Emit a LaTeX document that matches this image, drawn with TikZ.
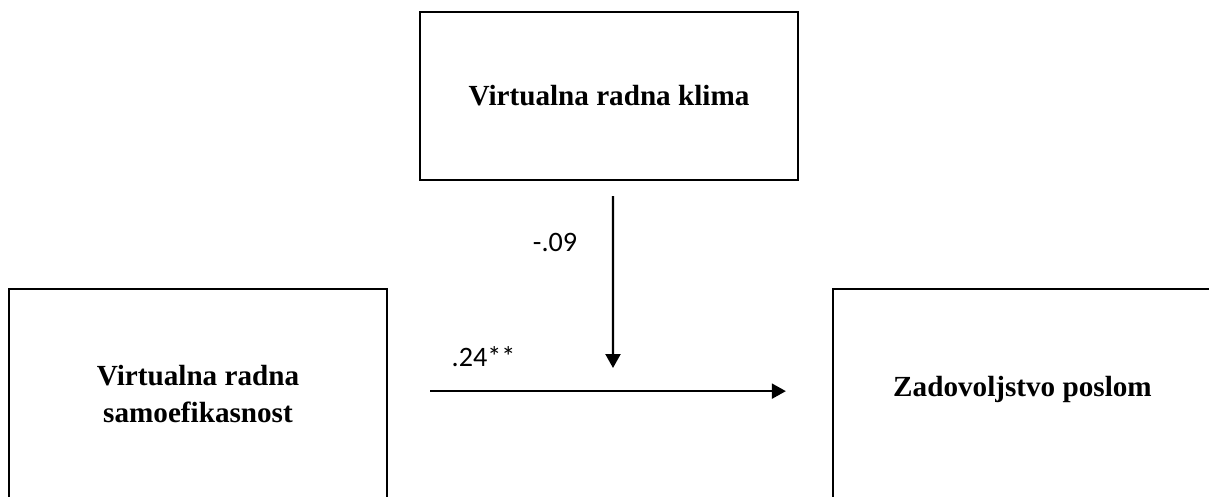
\documentclass[tikz,border=0pt]{standalone}
\usepackage{fontspec}
\setmainfont{Liberation Serif}
\newfontfamily\calibri{Carlito}
\usepackage{tikz}
\usetikzlibrary{arrows.meta, positioning}

\begin{document}
\begin{tikzpicture}[
  varbox/.style={rectangle, draw, line width=1.3pt, minimum width=7.56cm, align=center,
    font=\fontsize{16.6}{21}\selectfont\bfseries},
  coef/.style={font=\calibri\fontsize{16}{19}\selectfont},
  arrow/.style={-{Triangle[length=2.8mm, width=3mm]}, line width=1.2pt}
]
\useasboundingbox (0,0) rectangle (24.18,9.92);
\clip (0,0) rectangle (24.18,9.92);

% Moderator
\node[varbox, minimum height=3.36cm] (klima) at (12.18,8.0) {Virtualna radna klima};

% Predictor and outcome (cut off at the bottom)
\node[varbox, minimum height=4.6cm, anchor=north, text depth=0.42cm] (samo) at (3.96,4.16) {Virtualna radna\\samoefikasnost};
\node[varbox, minimum height=4.6cm, minimum width=7.58cm, anchor=north, text depth=0.72cm] (posao) at (20.45,4.16) {Zadovoljstvo poslom};

% Arrows
\coordinate (mod) at (12.26,2.56);
\draw[arrow] ([xshift=0.08cm, yshift=-0.3cm]klima.south) -- (mod);
\draw[arrow] ([xshift=0.84cm, yshift=0.26cm]samo.east) -- ([xshift=-0.92cm, yshift=0.26cm]posao.west);

% Coefficients
\node[coef] (bmod) at (11.1,5.08) {-.09};
\node[coef] (bdir) at (9.67,2.78) {.24**};

\end{tikzpicture}
\end{document}
